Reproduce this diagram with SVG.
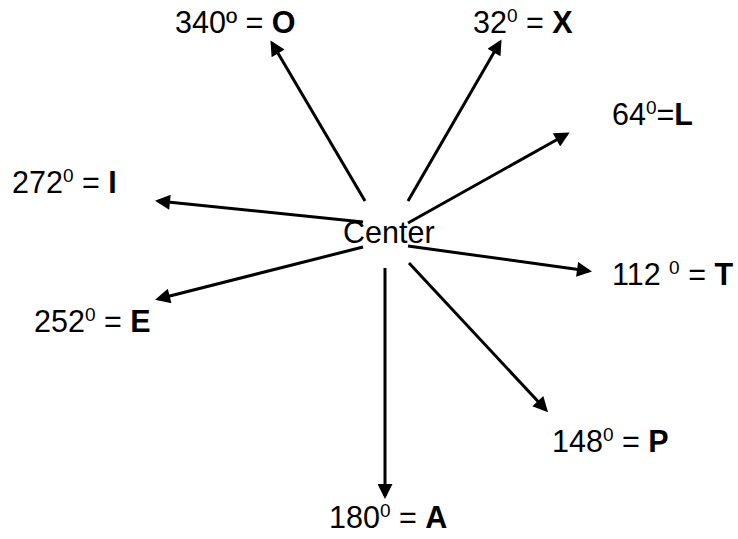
<svg xmlns="http://www.w3.org/2000/svg" width="738" height="539" viewBox="0 0 738 539">
<defs>
<marker id="ah" viewBox="0 0 10 10" refX="8" refY="5" markerWidth="18" markerHeight="15" markerUnits="userSpaceOnUse" orient="auto">
<path d="M0,0 L10,5 L0,10 Z" fill="#000"/>
</marker>
<style>
text{font-family:"Liberation Sans",Arial,sans-serif;font-size:30.5px;fill:#000}
.b{font-weight:bold}
.s{font-size:19px}
.c line{stroke:#000;stroke-width:3;marker-end:url(#ah)}
</style>
</defs>
<rect width="738" height="539" fill="#fff"/>
<g class="c" id="connectors">
<line x1="365" y1="201" x2="272" y2="43"/>
<line x1="408" y1="201" x2="500" y2="42"/>
<line x1="408" y1="223" x2="567" y2="134"/>
<line x1="363" y1="222" x2="158" y2="201"/>
<line x1="363" y1="247" x2="158" y2="299"/>
<line x1="408" y1="246" x2="589" y2="271"/>
<line x1="409" y1="263" x2="546" y2="410"/>
<line x1="385" y1="268" x2="385" y2="496"/>
</g>
<g id="center"><text x="343" y="243">Center</text></g>
<g id="O"><text x="175" y="33">340º = <tspan class="b">O</tspan></text></g>
<g id="X"><text x="473" y="33">32<tspan class="s" dy="-11">0</tspan><tspan dy="11"> = </tspan><tspan class="b">X</tspan></text></g>
<g id="L"><text x="612" y="125">64<tspan class="s" dy="-11">0</tspan><tspan dy="11">=</tspan><tspan class="b">L</tspan></text></g>
<g id="I"><text x="12" y="193">272<tspan class="s" dy="-11">0</tspan><tspan dy="11"> = </tspan><tspan class="b">I</tspan></text></g>
<g id="E"><text x="34" y="332">252<tspan class="s" dy="-11">0</tspan><tspan dy="11"> = </tspan><tspan class="b">E</tspan></text></g>
<g id="T"><text x="612" y="285">112 <tspan class="s" dy="-11">0</tspan><tspan dy="11"> = </tspan><tspan class="b">T</tspan></text></g>
<g id="P"><text x="552" y="452">148<tspan class="s" dy="-11">0</tspan><tspan dy="11"> = </tspan><tspan class="b">P</tspan></text></g>
<g id="A"><text x="329" y="528">180<tspan class="s" dy="-11">0</tspan><tspan dy="11"> = </tspan><tspan class="b">A</tspan></text></g>
</svg>
